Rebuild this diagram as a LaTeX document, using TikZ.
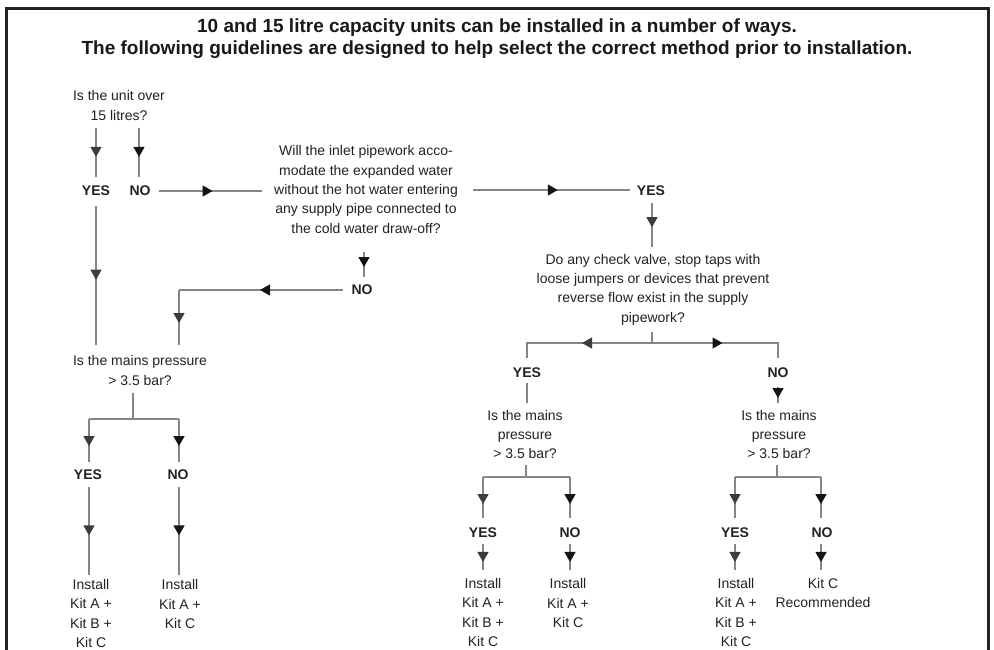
\documentclass[tikz,border=0pt]{standalone}
\usepackage{fontspec}
\setmainfont{Liberation Sans}
\usetikzlibrary{arrows.meta,decorations.markings}
\definecolor{linec}{HTML}{858585}
\definecolor{tipy}{HTML}{3C3C3C}
\definecolor{tipn}{HTML}{141414}
\definecolor{txtc}{HTML}{222222}
\definecolor{framec}{HTML}{222222}
\begin{document}
\begin{tikzpicture}[x=1pt,y=-1pt,
  txt/.style={font=\fontsize{14}{19.3}\selectfont, text=txtc, align=center, inner sep=0pt},
  lab/.style={font=\fontsize{14}{17}\selectfont\bfseries, text=txtc, inner sep=0pt},
  ttl/.style={font=\fontsize{19}{22}\selectfont\bfseries, text=black!90, align=center, inner sep=0pt},
  ln/.style={draw=linec, line width=1.3pt},
  ay/.style={postaction={decorate,decoration={markings,mark=at position #1 with {\arrow{Triangle[length=10pt,width=11pt,color=tipy]}}}}},
  an/.style={postaction={decorate,decoration={markings,mark=at position #1 with {\arrow{Triangle[length=10pt,width=11pt,color=tipn]}}}}}]
\useasboundingbox (0,0) rectangle (994,649);
\fill[white] (0,0) rectangle (994,649);
% frame
\draw[line width=3pt, draw=framec] (6,655) -- (6,8) -- (988.5,8) -- (988.5,655);
% title
\node[ttl] (title) at (497,38.5) {10 and 15 litre capacity units can be installed in a number of ways.\\The following guidelines are designed to help select the correct method prior to installation.};
% texts
\node[txt] (q1) at (119,105.5) {Is the unit over\\15 litres?};
\node[lab] (yes1) at (96,191) {YES};
\node[lab] (no1) at (140,191) {NO};
\node[txt] (q3) at (366,189.5) {Will the inlet pipework acco-\\modate the expanded water\\without the hot water entering\\any supply pipe connected to\\the cold water draw-off?};
\node[lab] (yes2) at (651,191) {YES};
\node[txt] (q4) at (653,289.5) {Do any check valve, stop taps with\\loose jumpers or devices that prevent\\reverse flow exist in the supply\\pipework?};
\node[lab] (no2) at (362,290) {NO};
\node[txt] (q6) at (140,370.5) {Is the mains pressure\\> 3.5 bar?};
\node[lab] (yes5) at (88,475) {YES};
\node[lab] (no5) at (178,475) {NO};
\node[txt] (f1) at (91,613.5) {Install\\Kit A +\\Kit B +\\Kit C};
\node[txt] (f2) at (180,604) {Install\\Kit A +\\Kit C};
\node[lab] (yes3) at (527,373) {YES};
\node[lab] (no3) at (778,373) {NO};
\node[txt] (q5L) at (525,434.5) {Is the mains\\pressure\\> 3.5 bar?};
\node[txt] (q5R) at (779,434.5) {Is the mains\\pressure\\> 3.5 bar?};
\node[lab] (yes4L) at (483,533) {YES};
\node[lab] (no4L) at (570,533) {NO};
\node[lab] (yes4R) at (735,533) {YES};
\node[lab] (no4R) at (822,533) {NO};
\node[txt] (f3) at (483,612.5) {Install\\Kit A +\\Kit B +\\Kit C};
\node[txt] (f4) at (568,603) {Install\\Kit A +\\Kit C};
\node[txt] (f5) at (736,612.5) {Install\\Kit A +\\Kit B +\\Kit C};
\node[txt] (f6) at (823,593) {Kit C\\Recommended};
% connector end points
\coordinate (a1) at (96,128);  \coordinate (a2) at (96,177);
\coordinate (b1) at (139,128); \coordinate (b2) at (139,177);
\coordinate (c1) at (159,191); \coordinate (c2) at (262,191);
\coordinate (d1) at (96,206);  \coordinate (d2) at (96,345);
\coordinate (e1) at (473,190); \coordinate (e2) at (630,190);
\coordinate (g1) at (652,203); \coordinate (g2) at (652,247);
\coordinate (h1) at (364,252); \coordinate (h2) at (364,277);
\coordinate (i1) at (343,290); \coordinate (i2) at (179,290); \coordinate (i3) at (179,345);
\coordinate (j1) at (133,393); \coordinate (j2) at (133,419);
\coordinate (jl) at (89,419);  \coordinate (jr) at (179,419);
\coordinate (jl2) at (89,462); \coordinate (jr2) at (179,462);
\coordinate (k1) at (89,487);  \coordinate (k2) at (89,575);
\coordinate (l1) at (179,487); \coordinate (l2) at (179,575);
\coordinate (m1) at (652,332); \coordinate (m2) at (652,343);
\coordinate (ml) at (527,343); \coordinate (ml2) at (527,358);
\coordinate (mr) at (778,343); \coordinate (mr2) at (778,358);
\coordinate (n1) at (527,383); \coordinate (n2) at (527,403);
\coordinate (o1) at (778,387); \coordinate (o2) at (778,403);
\coordinate (p1) at (526,465); \coordinate (p2) at (526,477);
\coordinate (pl) at (483,477); \coordinate (pr) at (570,477);
\coordinate (pl2) at (483,518); \coordinate (pr2) at (570,518);
\coordinate (r1) at (483,544); \coordinate (r2) at (483,570);
\coordinate (s1) at (570,544); \coordinate (s2) at (570,570);
\coordinate (u1) at (777,465); \coordinate (u2) at (777,477);
\coordinate (ul) at (735,477); \coordinate (ur) at (821,477);
\coordinate (ul2) at (735,518); \coordinate (ur2) at (821,518);
\coordinate (v1) at (735,544); \coordinate (v2) at (735,570);
\coordinate (w1) at (821,544); \coordinate (w2) at (821,570);
% connectors
\draw[ln, ay=0.59] (a1) -- (a2);
\draw[ln, an=0.59] (b1) -- (b2);
\draw[ln, an=0.52] (c1) -- (c2);
\draw[ln, ay=0.53] (d1) -- (d2);
\draw[ln, an=0.54] (e1) -- (e2);
\draw[ln, ay=0.55] (g1) -- (g2);
\draw[ln, an=0.6] (h1) -- (h2);
\draw[ln, an=0.506] (i1) -- (i2);
\draw[ln, ay=0.6] (i2) -- (i3);
\draw[ln] (j1) -- (j2);
\draw[ln] (jl) -- (jr);
\draw[ln, ay=0.63] (jl) -- (jl2);
\draw[ln, an=0.63] (jr) -- (jr2);
\draw[ln, ay=0.55] (k1) -- (k2);
\draw[ln, an=0.55] (l1) -- (l2);
\draw[ln] (m1) -- (m2);
\draw[ln, ay=0.5] (m2) -- (ml) -- (ml2);
\draw[ln, an=0.5] (m2) -- (mr) -- (mr2);
\draw[ln] (n1) -- (n2);
\draw[ln, an=0.69] (o1) -- (o2);
\draw[ln] (p1) -- (p2);
\draw[ln] (pl) -- (pr);
\draw[ln, ay=0.66] (pl) -- (pl2);
\draw[ln, an=0.66] (pr) -- (pr2);
\draw[ln, ay=0.69] (r1) -- (r2);
\draw[ln, an=0.69] (s1) -- (s2);
\draw[ln] (u1) -- (u2);
\draw[ln] (ul) -- (ur);
\draw[ln, ay=0.66] (ul) -- (ul2);
\draw[ln, an=0.66] (ur) -- (ur2);
\draw[ln, ay=0.69] (v1) -- (v2);
\draw[ln, an=0.69] (w1) -- (w2);
\end{tikzpicture}
\end{document}
